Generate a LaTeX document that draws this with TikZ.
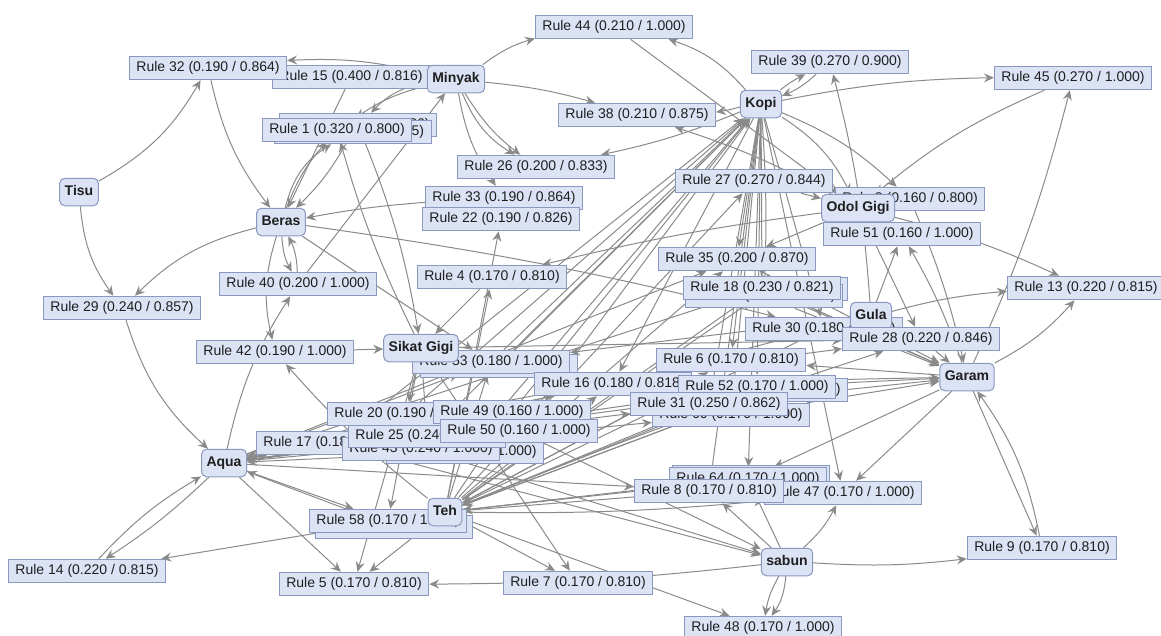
\documentclass[tikz,border=0pt]{standalone}
\usepackage{fontspec}
\setmainfont{Liberation Sans}
\usetikzlibrary{arrows.meta}
\pgfdeclarelayer{bg}
\pgfsetlayers{bg,main}
\definecolor{fl}{RGB}{220,227,244}
\definecolor{bd}{RGB}{138,152,192}
\definecolor{eg}{RGB}{138,138,138}
\begin{document}
\begin{tikzpicture}[x=1pt,y=-1pt,
 rl/.style={draw=bd,fill=fl,line width=1pt,font=\fontsize{14}{16}\selectfont,text=black!88,inner xsep=7pt,inner ysep=5pt,text height=10.5pt,text depth=3pt},
 it/.style={rl,rounded corners=5pt,font=\fontsize{14}{16}\selectfont\bfseries,inner xsep=5pt,inner ysep=7pt},
 e/.style={draw=eg,line width=1pt,-{Stealth[length=10pt,width=9pt,inset=3.5pt]}},
]
\useasboundingbox (0,0) rectangle (1161,635);
% ---------- rule nodes (back to front) ----------
\node[rl] (r44) at (614,27) {Rule 44 (0.210 / 1.000)};
\node[rl] (r39) at (830,62) {Rule 39 (0.270 / 0.900)};
\node[rl] (r45) at (1073,78) {Rule 45 (0.270 / 1.000)};
\node[rl] (r15) at (351,77) {Rule 15 (0.400 / 0.816)};
\node[rl] (r32) at (208,68) {Rule 32 (0.190 / 0.864)};
\node[rl] (h1) at (358,125) {Rule 12 (0.190 / 0.826)};
\node[rl] (h2) at (353,132) {Rule 11 (0.180 / 0.815)};
\node[rl] (r1) at (337,130) {Rule 1 (0.320 / 0.800)};
\node[rl] (r38) at (637,115) {Rule 38 (0.210 / 0.875)};
\node[rl] (r26) at (536,167) {Rule 26 (0.200 / 0.833)};
\node[rl] (r27) at (754,181) {Rule 27 (0.270 / 0.844)};
\node[rl] (r3) at (910,199) {Rule 3 (0.160 / 0.800)};
\node[rl] (r33) at (504,198) {Rule 33 (0.190 / 0.864)};
\node[rl] (r22) at (501,219) {Rule 22 (0.190 / 0.826)};
\node[rl] (r51) at (902,234) {Rule 51 (0.160 / 1.000)};
\node[rl] (r40) at (298,284) {Rule 40 (0.200 / 1.000)};
\node[rl] (r4) at (492,277) {Rule 4 (0.170 / 0.810)};
\node[rl] (r35) at (737,259) {Rule 35 (0.200 / 0.870)};
\node[rl] (r13) at (1086,288) {Rule 13 (0.220 / 0.815)};
\node[rl] (r29) at (122,308) {Rule 29 (0.240 / 0.857)};
\node[rl] (h3) at (769,289) {Rule 19 (0.230 / 0.870)};
\node[rl] (h4) at (764,296) {Rule 36 (0.200 / 0.870)};
\node[rl] (r18) at (762,288) {Rule 18 (0.230 / 0.821)};
\node[rl] (r42) at (275,352) {Rule 42 (0.190 / 1.000)};
\node[rl] (r30) at (824,329) {Rule 30 (0.180 / 0.857)};
\node[rl] (h5) at (499,366) {Rule 54 (0.180 / 1.000)};
\node[rl] (r53) at (491,362) {Rule 53 (0.180 / 1.000)};
\node[rl] (r16) at (613,384) {Rule 16 (0.180 / 0.818)};
\node[rl] (r6) at (731,360) {Rule 6 (0.170 / 0.810)};
\node[rl] (h6) at (769,390) {Rule 55 (0.170 / 1.000)};
\node[rl] (r52) at (757,387) {Rule 52 (0.170 / 1.000)};
\node[rl] (h7) at (731,415) {Rule 60 (0.170 / 1.000)};
\node[rl] (r31) at (709,404) {Rule 31 (0.250 / 0.862)};
\node[rl] (hb1) at (465,452) {Rule 41 (0.170 / 1.000)};
\node[rl] (r17) at (335,443) {Rule 17 (0.180 / 0.818)};
\node[rl] (hb2) at (421,449) {Rule 43 (0.240 / 1.000)};
\node[rl] (r25) at (427,436) {Rule 25 (0.240 / 1.000)};
\node[rl] (r20) at (406,414) {Rule 20 (0.190 / 0.826)};
\node[rl] (r49) at (512,412) {Rule 49 (0.160 / 1.000)};
\node[rl] (r50) at (519,431) {Rule 50 (0.160 / 1.000)};
\node[rl] (r58b) at (394,527) {Rule 59 (0.170 / 1.000)};
\node[rl] (r58) at (388,521) {Rule 58 (0.170 / 1.000)};
\node[rl] (h8) at (751,477) {Rule 62 (0.170 / 1.000)};
\node[rl] (r64) at (748,479) {Rule 64 (0.170 / 1.000)};
\node[rl] (r47) at (843,493) {Rule 47 (0.170 / 1.000)};
\node[rl] (r8) at (709,491) {Rule 8 (0.170 / 0.810)};
\node[rl] (r14) at (87,571) {Rule 14 (0.220 / 0.815)};
\node[rl] (r5) at (354,584) {Rule 5 (0.170 / 0.810)};
\node[rl] (r7) at (578,583) {Rule 7 (0.170 / 0.810)};
\node[rl] (r9) at (1042,548) {Rule 9 (0.170 / 0.810)};
\node[rl] (r48) at (763,628) {Rule 48 (0.170 / 1.000)};
% ---------- item nodes ----------
\node[it] (tisu) at (79,192) {Tisu};
\node[it] (minyak) at (456,79) {Minyak};
\node[it] (kopi) at (761,104) {Kopi};
\node[it] (beras) at (281,222) {Beras};
\node[it] (odol) at (858,208) {Odol Gigi};
\node[it] (sikat) at (421,348) {Sikat Gigi};
\node[it] (gula) at (871,316) {Gula};
\node[rl] (r28) at (921,339) {Rule 28 (0.220 / 0.846)};
\node[it] (garam) at (967,377) {Garam};
\node[it] (aqua) at (224,463) {Aqua};
\node[it] (teh) at (445,512) {Teh};
\node[it] (sabun) at (787,562) {sabun};
% ---------- connectors ----------
\begin{pgfonlayer}{bg}
% top-left
\draw[e] (tisu) to[bend right=15] (r32);
\draw[e] (r32) to[bend right=12] (beras);
\draw[e] (minyak) to[bend right=8] (r32);
\draw[e] (tisu) to[bend right=15] (r29);
\draw[e] (beras) to[bend right=15] (r29);
\draw[e] (r29) to[bend right=15] (aqua);
\draw[e] (r15) to (beras);
\draw[e] (minyak) to[bend right=10] (r1);
\draw[e] (minyak) to[bend right=18] (h1);
\draw[e] (beras) to[bend left=10] (r1);
\draw[e] (beras) to[bend left=22] (h2);
\draw[e] (h2) to[bend left=8] (beras);
\draw[e] (sikat) to[bend left=5] (r1);
\draw[e] (h1) to[bend left=6] (sikat);
\draw[e] (r40) to (minyak);
\draw[e] (minyak) to[bend right=10] (r26);
\draw[e] (minyak) to[bend right=18] (r26);
\draw[e] (minyak) to[bend right=12] (r33);
\draw[e] (r33) to[bend right=3] (beras);
\draw[e] (beras) to (r53);
\draw[e] (beras) to[bend left=3] (r30);
\draw[e] (beras) to[bend right=12] (r40);
\draw[e] (r40) to[bend right=12] (beras);
\draw[e] (beras) to[bend right=15] (r42);
\draw[e] (r42) to (sikat);
\draw[e] (aqua) to[bend left=10] (r40);
\draw[e] (teh) to[bend left=5] (r42);
\draw[e] (r4) to (sikat);
\draw[e] (odol) to[bend right=3] (r4);
\draw[e] (teh) to (r22);
\draw[e] (teh) to (r4);
% Kopi / top
\draw[e] (minyak) to[bend left=10] (r44);
\draw[e] (kopi) to[bend right=15] (r44);
\draw[e] (r44) to (odol);
\draw[e] (minyak) to[bend left=5] (r38);
\draw[e] (kopi) to[bend left=3] (r38);
\draw[e] (odol) to[bend right=5] (r38);
\draw[e] (kopi) to[bend left=5] (r26);
\draw[e] (kopi) to[bend left=5] (r39);
\draw[e] (r39) to[bend left=10] (kopi);
\draw[e] (gula) to[bend right=5] (r39);
\draw[e] (kopi) to[bend left=5] (r45);
\draw[e] (r45) to[bend right=8] (odol);
\draw[e] (garam) to[bend right=5] (r45);
\draw[e] (kopi) to[bend left=15] (odol);
\draw[e] (kopi) to[bend left=10] (r3);
\draw[e] (teh) to (r27);
\draw[e] (r27) to (odol);
% bundle into Kopi
\draw[e] (r53) to (kopi);
\draw[e] (h5) to (kopi);
\draw[e] (r49) to (kopi);
\draw[e] (r50) to (kopi);
\draw[e] (r20) to (kopi);
\draw[e] (r25) to (kopi);
\draw[e] (hb1) to (kopi);
\draw[e] (r17) to (kopi);
\draw[e] (aqua) to (r35);
\draw[e] (aqua) to (r18);
\draw[e] (teh) to (r35);
\draw[e] (teh) to (r18);
\draw[e] (teh) to (h3);
% Kopi downward
\draw[e] (kopi) to (r35);
\draw[e] (kopi) to (r18);
\draw[e] (kopi) to[bend left=3] (h4);
\draw[e] (kopi) to (r30);
\draw[e] (kopi) to (r6);
\draw[e] (kopi) to (r52);
\draw[e] (kopi) to (r31);
\draw[e] (kopi) to (h7);
\draw[e] (kopi) to (r64);
\draw[e] (kopi) to (r8);
\draw[e] (kopi) to (r47);
\draw[e] (kopi) to (r16);
% into Teh
\draw[e] (r6) to (teh);
\draw[e] (r52) to (teh);
\draw[e] (r8) to (teh);
\draw[e] (r64) to (teh);
\draw[e] (h8) to (teh);
\draw[e] (r30) to (teh);
\draw[e] (h6) to (teh);
\draw[e] (r58) to (teh);
% Garam
\draw[e] (r16) to (garam);
\draw[e] (r31) to (garam);
\draw[e] (h7) to (garam);
\draw[e] (r28) to (garam);
\draw[e] (r18) to (garam);
\draw[e] (h3) to (garam);
\draw[e] (h4) to (garam);
\draw[e] (r35) to (garam);
\draw[e] (r3) to[bend left=5] (garam);
\draw[e] (garam) to[bend right=10] (r13);
\draw[e] (garam) to (r9);
\draw[e] (r9) to[bend right=12] (garam);
\draw[e] (garam) to[bend right=5] (r51);
\draw[e] (garam) to (r6);
\draw[e] (garam) to (r52);
\draw[e] (garam) to (r64);
\draw[e] (garam) to (r47);
% Gula / Odol
\draw[e] (gula) to[bend left=5] (r13);
\draw[e] (gula) to (r51);
\draw[e] (gula) to (r16);
\draw[e] (gula) to (r53);
\draw[e] (odol) to[bend left=5] (r13);
\draw[e] (odol) to (r35);
\draw[e] (odol) to (r28);
% sabun
\draw[e] (sabun) to[bend left=15] (r48);
\draw[e] (sabun) to[bend right=10] (r48);
\draw[e] (teh) to (r48);
\draw[e] (sabun) to[bend right=10] (r47);
\draw[e] (sabun) to[bend right=5] (r9);
\draw[e] (sabun) to[bend left=3] (r5);
\draw[e] (sabun) to (r8);
\draw[e] (sabun) to (r64);
\draw[e] (hb2) to (sabun);
\draw[e] (r50) to (sabun);
\draw[e] (r17) to (sabun);
% Aqua
\draw[e] (aqua) to[bend left=5] (r14);
\draw[e] (r14) to[bend left=8] (aqua);
\draw[e] (teh) to (r14);
\draw[e] (aqua) to (r17);
\draw[e] (aqua) to (r5);
\draw[e] (aqua) to (r58);
\draw[e] (aqua) to (r6);
\draw[e] (aqua) to (r52);
\draw[e] (aqua) to (r31);
\draw[e] (aqua) to (r16);
\draw[e] (aqua) to (r53);
\draw[e] (aqua) to (r8);
\draw[e] (aqua) to (h6);
\draw[e] (aqua) to (h7);
\draw[e] (aqua) to[bend left=3] (r28);
\draw[e] (r20) to (aqua);
\draw[e] (r25) to (aqua);
\draw[e] (hb1) to (aqua);
\draw[e] (r58b) to (aqua);
% Teh / Sikat
\draw[e] (teh) to (r5);
\draw[e] (teh) to (r7);
\draw[e] (sikat) to (r7);
\draw[e] (sikat) to (r5);
\draw[e] (sikat) to (r58);
\draw[e] (sikat) to (r20);
\draw[e] (sikat) to (r25);
\draw[e] (teh) to (r53);
\draw[e] (teh) to (r16);
\draw[e] (teh) to (r49);
\draw[e] (teh) to (r31);
\draw[e] (teh) to (r6);
\draw[e] (teh) to (h6);
\draw[e] (teh) to[bend left=2] (r28);
\draw[e] (teh) to[bend right=3] (r47);
\draw[e] (sikat) to (r28);
\end{pgfonlayer}
\end{tikzpicture}
\end{document}
